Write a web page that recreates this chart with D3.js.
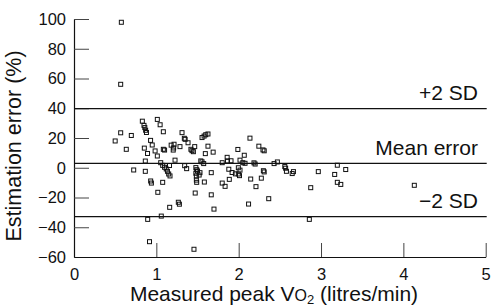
<!DOCTYPE html>
<html>
<head>
<meta charset="utf-8">
<script src="https://cdn.jsdelivr.net/npm/d3@7"></script>
<style>
  body { margin: 0; background: #fff; }
  svg { display: block; font-family: "Liberation Sans", Arial, Helvetica, sans-serif; }
</style>
</head>
<body>
<svg id="chart" width="491" height="306"></svg>
<script>
// Measured peak VO2 (litres/min)
const measuredVo2 = [
  0.575, 0.567, 0.567, 0.50, 0.696, 0.635, 0.725, 0.83, 0.85, 0.86,
  0.87, 0.88, 1.012, 1.046, 1.085, 0.93, 0.95, 0.854, 0.893, 0.985,
  1.085, 1.10, 1.012, 0.866, 0.866, 1.053, 1.077, 1.10, 1.12, 1.135,
  1.15, 1.166, 0.931, 0.94, 1.077, 1.018, 1.162, 1.267, 1.28, 1.06,
  0.895, 0.917, 1.457, 1.16, 1.227, 1.312, 1.34, 1.35, 1.385, 1.215,
  1.18, 1.205, 1.21, 1.287, 1.42, 1.433, 1.45, 1.466, 1.555, 1.58,
  1.60, 1.627, 1.627, 1.595, 1.69, 1.344, 1.368, 1.54, 1.555, 1.575,
  1.48, 1.49, 1.50, 1.48, 1.486, 1.486, 1.49, 1.52, 1.53, 1.472,
  1.583, 1.667, 1.667, 1.70, 1.80, 1.86, 1.864, 1.907, 1.99, 2.068,
  2.016, 2.05, 1.88, 1.92, 1.96, 1.996, 2.016, 1.996, 1.80, 1.835,
  1.886, 2.01, 2.137, 2.245, 2.295, 2.31, 2.186, 2.20, 2.146, 2.275,
  2.30, 2.31, 2.21, 2.365, 2.12, 2.47, 2.43, 2.56, 2.58, 2.65,
  2.665, 2.967, 2.875, 2.858, 3.198, 3.166, 3.30, 3.198, 3.24, 4.133,
  2.57, 2.077
];

// Estimation error (%)
const estimationError = [
  97.8, 56.1, 23.5, 18.0, 21.7, 12.4, -1.5, 31.3, 28.5, 27.0,
  25.2, 23.7, 32.5, 28.9, 24.2, 18.4, 15.3, 13.2, 9.6, 11.3,
  12.4, 11.9, 7.9, 4.5, -2.4, 3.4, 1.6, 0.3, -0.8, -2.4,
  -4.2, -5.5, -8.9, -10.3, -9.8, -16.5, -26.6, -23.2, -24.5, -32.5,
  -34.7, -49.7, -54.8, 1.5, 5.1, 23.6, 19.8, 19.1, 16.8, 15.8,
  15.2, 11.9, 13.3, 14.2, 12.4, 11.5, 10.8, 14.2, 20.3, 21.3,
  22.2, 22.7, 14.5, 9.5, 10.5, 1.4, -0.6, 4.6, 4.0, 2.8,
  0.1, -1.3, -2.2, -3.7, -5.5, -8.3, -9.8, -4.9, -3.3, -17.0,
  -9.6, -3.3, -18.2, -27.8, 3.4, 7.0, 4.6, 4.7, 12.3, 8.4,
  5.1, 3.4, -1.0, -3.2, -4.1, -4.2, -1.6, 0.0, -10.3, -12.5,
  -7.8, -5.3, 19.9, 14.5, 12.0, 11.4, 3.3, 2.5, -7.6, -7.0,
  -2.0, -2.8, -12.7, -20.8, -24.4, 3.9, 2.8, 0.8, -2.4, -3.9,
  -2.6, -2.6, -13.4, -34.7, 1.7, -4.5, -1.2, -9.8, -11.2, -11.8,
  -0.3, 3.0
];

// Mean error and limits of agreement
const refValues = [39.7, 3.0, -32.9];
const refLabels = ["+2 SD", "Mean error", "\u22122 SD"];

const xTicks = [0, 1, 2, 3, 4, 5];
const yTicks = [-60, -40, -20, 0, 20, 40, 60, 80, 100];

const svg = d3.select("#chart");

const x = d3.scaleLinear().domain([0, 5]).range([74, 485.7]);
const y = d3.scaleLinear().domain([-60, 100]).range([257, 19]);

// Axes (ticks point inward)
const yAxis = svg.append("g")
    .attr("transform", "translate(74,0)")
    .call(d3.axisLeft(y).tickValues(yTicks).tickSize(-15).tickSizeOuter(0).tickPadding(8));

const xAxis = svg.append("g")
    .attr("transform", "translate(0,257)")
    .call(d3.axisBottom(x).tickValues(xTicks).tickFormat(d3.format("d"))
        .tickSize(-14).tickSizeOuter(0).tickPadding(11));

[yAxis, xAxis].forEach(a => {
    a.select(".domain").attr("stroke", "#111").attr("stroke-width", 1.2);
    a.selectAll(".tick line").attr("stroke", "#444").attr("stroke-width", 1);
    a.selectAll(".tick text")
        .attr("fill", "#111")
        .style("font-size", "16.5px");
});
xAxis.selectAll(".tick").filter(d => d === 0).select("line").remove();

// Reference lines
svg.append("g")
    .selectAll("line")
    .data(refValues)
    .join("line")
    .attr("x1", x(0))
    .attr("x2", x(5) + 1)
    .attr("y1", d => y(d))
    .attr("y2", d => y(d))
    .attr("stroke", "#111")
    .attr("stroke-width", 1.2);

svg.append("g")
    .selectAll("text")
    .data(refValues)
    .join("text")
    .attr("x", 478)
    .attr("y", d => y(d) - 8.5)
    .attr("text-anchor", "end")
    .attr("fill", "#111")
    .style("font-size", "21px")
    .text((d, i) => refLabels[i]);

// Points
svg.append("g")
    .selectAll("rect")
    .data(measuredVo2)
    .join("rect")
    .attr("x", (d, i) => x(d) - 2)
    .attr("y", (d, i) => y(estimationError[i]) - 2)
    .attr("width", 4)
    .attr("height", 4)
    .attr("fill", "none")
    .attr("stroke", "#111")
    .attr("stroke-width", 1);

// Axis titles
svg.append("text")
    .attr("transform", "translate(21,146) rotate(-90)")
    .attr("text-anchor", "middle")
    .attr("fill", "#111")
    .style("font-size", "21.5px")
    .text("Estimation error (%)");

const xTitle = svg.append("text")
    .attr("x", 274)
    .attr("y", 301)
    .attr("text-anchor", "middle")
    .attr("fill", "#111")
    .style("font-size", "21px");
xTitle.append("tspan").text("Measured peak V");
xTitle.append("tspan").style("font-size", "16px").text("O");
xTitle.append("tspan").style("font-size", "13px").attr("dy", 3).text("2");
xTitle.append("tspan").attr("dy", -3).text(" (litres/min)");
</script>
</body>
</html>
